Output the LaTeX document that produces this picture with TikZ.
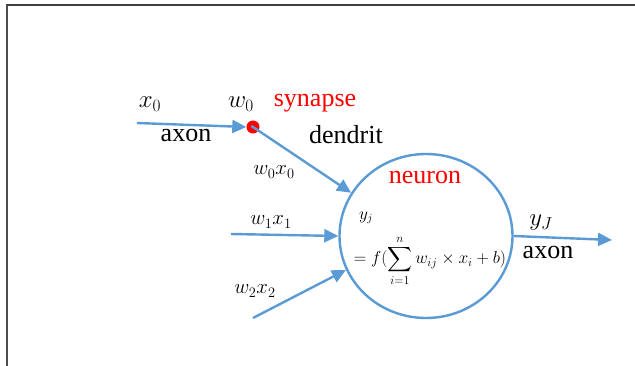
\documentclass[tikz,border=0pt]{standalone}
\usepackage{amsmath}
\usepackage{fontspec}
\setmainfont{Liberation Serif}
\usetikzlibrary{arrows.meta,shapes.geometric}
\definecolor{lineblue}{RGB}{91,155,213}
\begin{document}
\begin{tikzpicture}[x=1pt,y=-1pt,
  conn/.style={draw=lineblue,line width=2.4pt,-{Triangle[length=14pt,width=13pt]}},
  lbl/.style={inner sep=0pt,font=\fontsize{26}{30}\selectfont},
  mlbl/.style={inner sep=0pt,font=\fontsize{26}{30}\selectfont},
  slbl/.style={inner sep=0pt,font=\fontsize{20}{24}\selectfont},
  red lbl/.style={lbl,text=red}]
\useasboundingbox (0,0) rectangle (635,366);
\fill[white] (0,0) rectangle (635,366);
% frame
\draw[black!75,line width=1.6pt] (6,5) -- (635,5);
\draw[black!70,line width=1.6pt] (7,5) -- (7,366);
% neuron
\node[draw=lineblue,line width=2.4pt,ellipse,minimum width=173pt,minimum height=164pt,inner sep=0pt] (neuron) at (426,236) {};
% synapse dot
\node[circle,fill=red,minimum size=13pt,inner sep=0pt] (syn) at (253,127) {};
% start points
\coordinate (x0s) at (137,123);
\coordinate (x1s) at (231,234);
\coordinate (x2s) at (253,318);
\coordinate (yend) at (612,240);
% connectors
\draw[conn] (x0s) -- (syn.west);
\draw[conn,shorten <=-2pt] (syn.center) -- (neuron.150);
\draw[conn] (x1s) -- (neuron.180);
\draw[conn] (x2s) -- (neuron.203);
\draw[conn] (neuron.east) -- (yend);
% labels
\node[mlbl] (lx0) at (150,104) {$x_0$};
\node[lbl] (ax1) at (186,136) {axon};
\node[mlbl] (lw0) at (241,104) {$w_0$};
\node[red lbl] (synl) at (315,103) {synapse};
\node[lbl] (dend) at (346,135) {dendrit};
\node[slbl] (lw0x0) at (274,172) {$w_0x_0$};
\node[red lbl] (neul) at (425,178) {neuron};
\node[slbl] (lw1x1) at (271,222) {$w_1x_1$};
\node[slbl] (lw2x2) at (255,291) {$w_2x_2$};
\node[inner sep=0pt,font=\fontsize{16}{18}\selectfont] (yj) at (366,218) {$y_j$};
\node[inner sep=0pt,font=\fontsize{17}{20}\selectfont,anchor=base] (form) at (430,264) {$=f(\displaystyle\sum_{i=1}^{n} w_{ij}\times x_i+b)$};
\node[mlbl] (lyJ) at (541,223) {$y_J$};
\node[lbl] (ax2) at (548,253) {axon};
\end{tikzpicture}
\end{document}
